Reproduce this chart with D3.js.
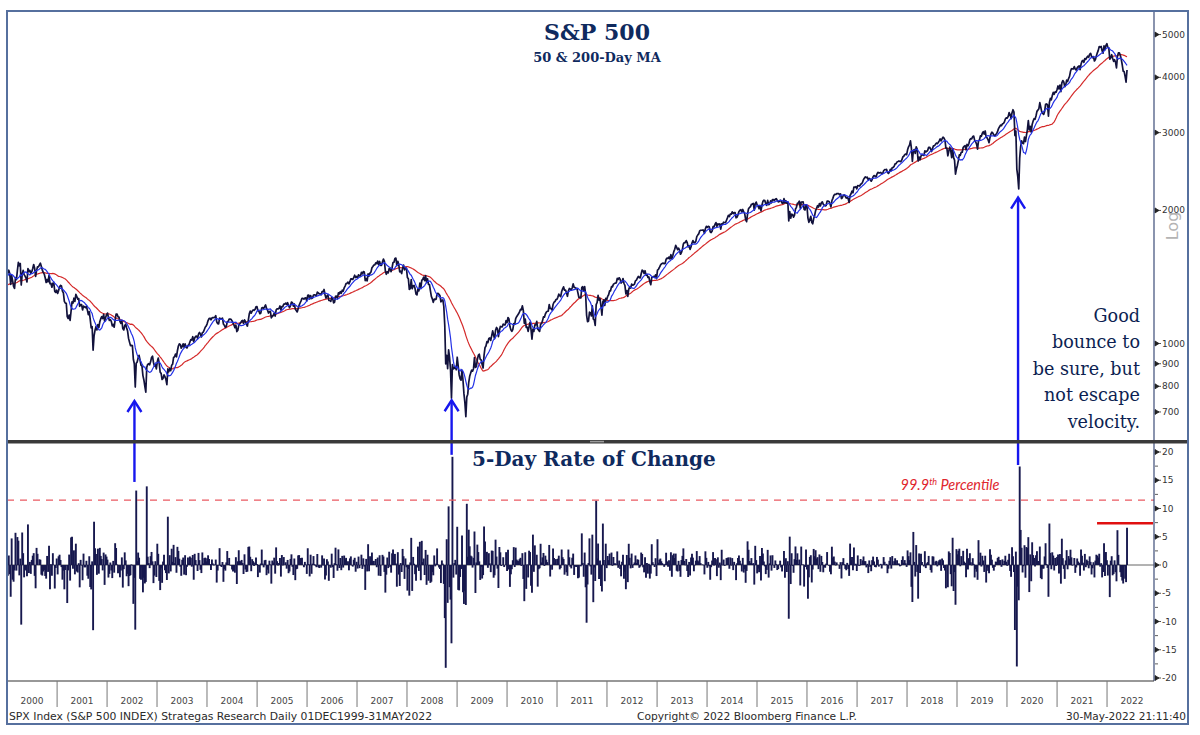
<!DOCTYPE html>
<html><head><meta charset="utf-8">
<script src="https://cdn.jsdelivr.net/npm/d3@7"></script>
<style>body{margin:0;background:#fff}svg{display:block}</style>
</head><body>
<svg id="c" width="1200" height="735"></svg>
<script>
// ---------- DATA (weekly S&P 500 closes) ----------
// 1999 series starts 1999-03-05 (used for the moving-average warm-up)
const spx1999 = [1275,1294,1299,1282, 1293,1328,1319,1356,1335, 1345,1338,1330,1302, 1327,1294,1342,1315, 1391,1403,1418,1356,1365, 1313,1327,1336,1348, 1357,1351,1335,1318,1283, 1317,1247,1301,1362, 1370,1397,1422,1416, 1433,1417,1421,1458,1469];
const spx2000 = [1441,1465,1441,1360, 1424,1387,1346,1333, 1409,1395,1464,1527,1499, 1516,1356,1434,1464, 1432,1420,1406,1378, 1477,1456,1464,1441,1454, 1478,1509,1480,1419, 1462,1491,1491,1506, 1520,1494,1466,1449,1436, 1408,1374,1396,1379, 1426,1365,1367,1341, 1369,1369,1312,1305,1320];
const spx2001 = [1298,1318,1342,1354, 1349,1314,1301,1245, 1234,1233,1150,1139,1160, 1128,1183,1242,1234, 1266,1245,1292,1277, 1260,1264,1214,1225,1224, 1191,1215,1210,1205, 1214,1191,1162,1180,1134, 1085,1092,966,1040, 1071,1092,1073,1104, 1087,1120,1138,1150,1139, 1164,1123,1144,1161];
const spx2002 = [1172,1146,1128,1133, 1122,1096,1104,1089, 1131,1165,1166,1149,1147, 1122,1111,1126,1081, 1073,1097,1106,1084,1067, 1027,1007,989,990, 989,921,900,797, 902,908,928,940,917, 893,889,846,827, 800,776,884,897, 900,895,909,930,936, 906,889,895,876];
const spx2003 = [909,927,901,861,856, 829,834,849,841, 829,807,876,863, 878,868,893,898, 930,933,946,933,963, 987,998,995,976, 985,998,981,998, 980,977,990,993,1008, 1021,1018,1036,1009, 1029,1038,1039,1028,1050, 1059,1050,1035,1058, 1061,1074,1088,1095];
const spx2004 = [1108,1127,1139,1141,1131, 1142,1145,1144,1145, 1156,1120,1109,1108, 1141,1139,1135,1141,1107, 1099,1088,1093,1120, 1122,1136,1135,1134, 1125,1112,1101,1086,1101, 1064,1071,1099,1107, 1114,1124,1128,1110, 1131,1122,1108,1095,1130, 1167,1184,1171,1183, 1191,1189,1194,1210,1212];
const spx2005 = [1186,1184,1168,1171, 1203,1206,1201,1211, 1222,1200,1190,1172, 1181,1182,1143,1152,1157, 1172,1154,1190,1198, 1197,1201,1216,1191, 1212,1211,1228,1228,1234, 1226,1237,1219,1205, 1218,1241,1237,1215,1229, 1196,1187,1179,1199, 1220,1235,1249,1265, 1265,1260,1267,1268,1248];
const spx2006 = [1285,1287,1261,1284, 1264,1267,1287,1289, 1287,1282,1307,1302,1295, 1295,1289,1311,1310, 1325,1291,1267,1280, 1288,1252,1251,1245,1270, 1265,1236,1240,1278, 1280,1267,1302,1295, 1311,1299,1320,1314,1336, 1349,1366,1368,1377, 1364,1380,1401,1400, 1396,1409,1427,1410,1418];
const spx2007 = [1409,1430,1422,1422, 1448,1438,1455,1451, 1387,1402,1386,1437,1421, 1443,1452,1484,1494, 1505,1506,1522,1516, 1536,1507,1533,1503,1503, 1530,1553,1534,1459, 1434,1453,1445,1479,1474, 1454,1484,1525,1527, 1557,1561,1501,1535, 1509,1453,1458,1440,1481, 1504,1467,1484,1478];
const spx2008 = [1411,1401,1325,1331, 1395,1331,1350,1353,1331, 1294,1288,1330,1316, 1370,1333,1390,1397, 1413,1388,1425,1375,1400, 1361,1360,1317,1278, 1262,1239,1260,1257, 1260,1297,1298,1292,1283, 1242,1252,1255,1213, 1099,899,940,877,968, 930,873,752,896, 876,879,887,872];
const spx2009 = [931,890,850,832,826, 869,827,770,735, 683,757,768,816, 843,857,870,866, 877,929,883,887,919, 940,946,921,918, 896,880,940,979,987, 1010,1005,1026,1029, 1016,1042,1068,1044, 1025,1071,1087,1080,1036, 1069,1093,1091,1091, 1106,1102,1102,1127];
const spx2010 = [1115,1145,1136,1092,1074, 1066,1075,1109,1105, 1139,1150,1159,1167, 1179,1194,1192,1217,1187, 1111,1136,1088,1089, 1065,1092,1117,1076, 1023,1078,1065,1102,1102, 1122,1079,1071,1065, 1105,1110,1125,1149, 1147,1166,1177,1183,1183, 1225,1200,1200,1190, 1225,1240,1244,1257,1258];
const spx2011 = [1272,1293,1283,1276, 1311,1329,1343,1320, 1321,1304,1279,1314, 1332,1328,1320,1337,1364, 1340,1338,1333,1331, 1300,1271,1271,1268, 1339,1344,1316,1345,1292, 1160,1120,1124,1177, 1174,1154,1216,1136,1131, 1099,1224,1238,1285, 1253,1263,1216,1159, 1244,1255,1219,1265,1258];
const spx2012 = [1278,1289,1315,1316, 1345,1343,1362,1366, 1370,1371,1404,1397,1408, 1398,1370,1378,1403, 1369,1353,1295,1318, 1278,1326,1343,1335,1362, 1355,1357,1363,1386, 1391,1405,1418,1411,1407, 1438,1466,1460,1441, 1461,1428,1433,1411, 1414,1380,1359,1409,1416, 1418,1413,1430,1402];
const spx2013 = [1466,1472,1486,1503, 1513,1518,1520,1515, 1518,1551,1561,1556,1569, 1553,1588,1555,1582, 1614,1634,1667,1650,1631, 1643,1626,1592,1606, 1632,1680,1692,1691, 1709,1691,1655,1664,1633, 1655,1688,1710,1691, 1690,1703,1745,1759, 1770,1798,1804,1804,1806, 1805,1775,1818,1841];
const spx2014 = [1832,1842,1838,1790,1783, 1797,1838,1836,1859, 1878,1841,1866,1857, 1865,1815,1864,1863, 1881,1878,1877,1900,1924, 1950,1937,1963,1961, 1985,1967,1978,1978, 1925,1931,1955,1988,2003, 2008,1985,2010,1983, 1968,1906,1886,1965,2018, 2032,2039,2064,2068, 2075,2003,2071,2089];
const spx2015 = [2058,2045,2019,2051,1995, 2055,2097,2110,2105, 2071,2053,2108,2061, 2067,2102,2081,2117, 2116,2105,2122,2126,2107, 2092,2094,2110,2101, 2077,2076,2127,2079,2104, 2078,2092,1893,1988, 1921,1961,1958,1931, 1951,2015,2033,2075,2079, 2099,2023,2089,2090, 2092,2012,2005,2060];
const spx2016 = [2044,1922,1880,1907,1940, 1880,1865,1918,1948, 1999,2022,2050,2035, 2073,2048,2081,2092,2065, 2057,2047,2052,2099, 2099,2096,2071,2037, 2103,2130,2162,2175,2173, 2183,2184,2184,2169, 2180,2128,2139,2165,2168, 2153,2133,2141,2126, 2085,2164,2182,2213, 2192,2260,2258,2263,2239];
const spx2017 = [2277,2274,2271,2295, 2297,2316,2351,2367, 2383,2373,2378,2344,2363, 2355,2329,2349,2384, 2399,2391,2382,2416, 2439,2432,2433,2438,2423, 2425,2459,2473,2472, 2477,2441,2425,2443, 2477,2461,2500,2502,2519, 2549,2553,2575,2581, 2588,2582,2579,2602, 2642,2652,2675,2683,2674];
const spx2018 = [2743,2786,2810,2873, 2762,2581,2732,2747, 2691,2786,2752,2588,2641, 2604,2656,2670,2670, 2663,2728,2713,2721, 2735,2779,2780,2755,2718, 2760,2801,2802,2819, 2840,2833,2850,2874,2902, 2872,2905,2930,2914, 2886,2767,2768,2659, 2723,2781,2736,2633,2760, 2633,2600,2417,2485];
const spx2019 = [2532,2596,2671,2665, 2707,2708,2776,2793, 2804,2743,2822,2800,2834, 2893,2907,2905,2940, 2946,2881,2860,2826,2752, 2873,2887,2950,2942, 2990,3014,2977,3026, 2932,2919,2889,2847,2926, 2979,3007,2992,2962, 2952,2970,2986,3023, 3067,3093,3120,3110,3141, 3146,3169,3221,3240];
const spx2020 = [3235,3265,3330,3295,3226, 3328,3380,3338,2954, 3024,2481,2386,2237, 2627,2790,2875,2837, 2831,2930,2864,2955,3044, 3194,3041,3098,3009, 3130,3185,3225,3216,3271, 3351,3373,3397,3508, 3427,3341,3319,3298, 3348,3477,3483,3465,3270, 3510,3585,3558,3638, 3699,3663,3709,3703];
const spx2021 = [3756,3825,3768,3841,3714, 3887,3934,3907,3811, 3842,3943,3913,3975, 4020,4129,4185,4180,4181, 4233,4174,4156,4204, 4230,4247,4166,4281, 4352,4370,4327,4412,4395, 4437,4468,4442,4510, 4535,4459,4433,4455, 4357,4391,4471,4545,4605, 4697,4683,4698,4595, 4538,4712,4620,4726,4766];
const spx2022 = [4677,4663,4398,4432, 4501,4419,4349,4385, 4329,4204,4463,4543, 4546,4488,4393,4272,4132, 4123,4023,3901,4158];

const priceTicks = [700, 800, 900, 1000, 2000, 3000, 4000, 5000];
const rocTicks = [-20, -15, -10, -5, 0, 5, 10, 15, 20];
const yearLabels = [2000,2001,2002,2003,2004,2005,2006,2007,2008,2009,2010,2011,2012,2013,2014,2015,2016,2017,2018,2019,2020,2021,2022];
const percentile999 = 11.5;     // 99.9th percentile of 5-day ROC
const recentHigh = 7.4;         // recent ROC high marker
const arrowDates = ["2002-07-20", "2008-11-22", "2020-03-22"];
const arrowTips = [745, 748, 2150];      // price level of arrow tip
const arrowBases = [14.7, 19.5, 17.7];   // ROC level of arrow tail

// ---------- BUILD SERIES ----------
const DAY = 86400000;
function firstFriday(y){ const d = new Date(Date.UTC(y,0,1)); return Date.UTC(y,0,1 + ((5 - d.getUTCDay() + 7) % 7)); }
const yearSeries = [[1999, spx1999, Date.UTC(1999,2,5)],[2000,spx2000],[2001,spx2001],[2002,spx2002],[2003,spx2003],[2004,spx2004],[2005,spx2005],[2006,spx2006],[2007,spx2007],[2008,spx2008],[2009,spx2009],[2010,spx2010],[2011,spx2011],[2012,spx2012],[2013,spx2013],[2014,spx2014],[2015,spx2015],[2016,spx2016],[2017,spx2017],[2018,spx2018],[2019,spx2019],[2020,spx2020],[2021,spx2021],[2022,spx2022]];
const series = [];
yearSeries.forEach(([yr, vals, start]) => {
  const s = start !== undefined ? start : firstFriday(yr);
  vals.forEach((v,i) => series.push({t: new Date(s + i*7*DAY), v}));
});
function sma(n){ const out=[]; for(let i=n-1;i<series.length;i++){ let s=0; for(let j=i-n+1;j<=i;j++) s+=series[j].v; out.push({t:series[i].t, v:s/n}); } return out; }
const ma50 = sma(10), ma200 = sma(40);
const roc = [];
for (let i=1;i<series.length;i++) roc.push({t:series[i].t, v:(series[i].v/series[i-1].v-1)*100});
const showFrom = new Date(Date.UTC(1999,11,1));
const vis = arr => arr.filter(d => d.t >= showFrom);

// ---------- LAYOUT ----------
const L=7, R=1154, FR=1188, T=11, UB=440, LT=443, LB=681, FB=724;
const svg = d3.select('#c');
const x = d3.scaleUtc().domain([Date.UTC(2000,0,1), Date.UTC(2023,0,1)]).range([7,1157]);
const yP = d3.scaleLog().domain([1000,10000]).range([343.5, 343.5-442]);
const yR = d3.scaleLinear().domain([-20,20]).range([678,452]);

const defs = svg.append('defs');
defs.append('clipPath').attr('id','cu').append('rect').attr('x',L+1).attr('y',T).attr('width',R-L-1).attr('height',UB-T);
defs.append('clipPath').attr('id','cl').append('rect').attr('x',L+1).attr('y',LT).attr('width',R-L-1).attr('height',LB-LT);

svg.append('rect').attr('width',1200).attr('height',735).attr('fill','#fff');

// ---------- UPPER PANEL ----------
const up = svg.append('g').attr('clip-path','url(#cu)');
const lineP = d3.line().x(d=>x(d.t)).y(d=>yP(d.v));
up.append('path').datum(vis(ma200)).attr('d',lineP).attr('fill','none').attr('stroke','#d42a2a').attr('stroke-width',1.2);
up.append('path').datum(vis(series)).attr('d',lineP).attr('fill','none').attr('stroke','#12123c').attr('stroke-width',1.7).attr('stroke-linejoin','round');
up.append('path').datum(vis(ma50)).attr('d',lineP).attr('fill','none').attr('stroke','#2331e6').attr('stroke-width',1.2);

// title
svg.append('text').attr('x',597).attr('y',40).attr('text-anchor','middle')
  .attr('font-family','DejaVu Serif, serif').attr('font-weight','bold').attr('font-size',22).attr('fill','#0f2a5e').text('S&P 500');
svg.append('text').attr('x',597).attr('y',62).attr('text-anchor','middle')
  .attr('font-family','DejaVu Serif, serif').attr('font-weight','bold').attr('font-size',13).attr('fill','#0f2a5e').text('50 & 200-Day MA');

// annotation text
const note = ['Good','bounce to','be sure, but','not escape','velocity.'];
svg.append('g').selectAll('text').data(note).join('text')
  .attr('x',1140).attr('y',(d,i)=>322+i*26.4).attr('text-anchor','end')
  .attr('font-family','DejaVu Serif, serif').attr('font-size',17.6).attr('fill','#0d1f52').text(d=>d);

// right axis (price)
const ax = svg.append('g');
ax.selectAll('path.tk').data(priceTicks).join('path').attr('class','tk')
  .attr('d',d=>`M${R+1},${yP(d)-2.5}L${R+5},${yP(d)}L${R+1},${yP(d)+2.5}Z M${R+4},${yP(d)}H${R+7}`)
  .attr('fill','#222').attr('stroke','#222').attr('stroke-width',0.8);
ax.selectAll('text').data(priceTicks).join('text')
  .attr('x',R+8).attr('y',d=>yP(d)+3).attr('font-family','DejaVu Sans, sans-serif').attr('font-size',9).attr('fill','#333').text(d=>d);
svg.append('text').attr('transform','translate(1178,226) rotate(-90)').attr('text-anchor','middle')
  .attr('font-family','DejaVu Sans, sans-serif').attr('font-size',16).attr('fill','#b4b4b4').text('Log');

// ---------- LOWER PANEL ----------
const lo = svg.append('g').attr('clip-path','url(#cl)');
lo.append('line').attr('x1',L).attr('x2',R).attr('y1',yR(0)).attr('y2',yR(0)).attr('stroke','#666').attr('stroke-width',1);
lo.append('g').selectAll('line').data(vis(roc)).join('line')
  .attr('x1',d=>x(d.t)).attr('x2',d=>x(d.t)).attr('y1',yR(0)).attr('y2',d=>yR(d.v))
  .attr('stroke','#17184e').attr('stroke-width',1.9);
lo.append('line').attr('x1',L).attr('x2',R).attr('y1',yR(percentile999)).attr('y2',yR(percentile999))
  .attr('stroke','#ea5a62').attr('stroke-width',1.3).attr('stroke-dasharray','7,6');
lo.append('line').attr('x1',x(new Date(Date.UTC(2021,9,20)))).attr('x2',R-1).attr('y1',yR(recentHigh)).attr('y2',yR(recentHigh))
  .attr('stroke','#e01010').attr('stroke-width',2.4);

svg.append('text').attr('x',950).attr('y',490).attr('text-anchor','middle')
  .attr('font-family','Lato, sans-serif').attr('font-style','italic').attr('font-size',14.5).attr('fill','#e0262e')
  .call(t=>{ t.append('tspan').text('99.9'); t.append('tspan').attr('font-size',9).attr('dy',-5).text('th'); t.append('tspan').attr('dy',5).text(' Percentile'); });

svg.append('text').attr('x',472).attr('y',466)
  .attr('font-family','DejaVu Serif, serif').attr('font-weight','bold').attr('font-size',20).attr('fill','#0f2a5e').text('5-Day Rate of Change');

// right axis (ROC)
const ax2 = svg.append('g');
ax2.selectAll('path.tk').data(rocTicks).join('path').attr('class','tk')
  .attr('d',d=>`M${R+1},${yR(d)-2.5}L${R+5},${yR(d)}L${R+1},${yR(d)+2.5}Z M${R+4},${yR(d)}H${R+7}`)
  .attr('fill','#222').attr('stroke','#222').attr('stroke-width',0.8);
ax2.selectAll('line.mn').data(rocTicks.slice(0,-1).map(d=>d+2.5)).join('line').attr('class','mn')
  .attr('x1',R+1).attr('x2',R+4).attr('y1',d=>yR(d)).attr('y2',d=>yR(d)).attr('stroke','#333').attr('stroke-width',0.8);
ax2.selectAll('text').data(rocTicks).join('text')
  .attr('x',R+8).attr('y',d=>yR(d)+3).attr('font-family','DejaVu Sans, sans-serif').attr('font-size',9).attr('fill','#333').text(d=>d);

// arrows
const ag = svg.append('g').attr('stroke','#1717ee').attr('stroke-width',2.4).attr('fill','none');
arrowDates.forEach((ds,i)=>{
  const ax0 = x(new Date(ds+'T00:00:00Z'));
  const tip = yP(arrowTips[i]), base = yR(arrowBases[i]);
  ag.append('line').attr('x1',ax0).attr('x2',ax0).attr('y1',tip+1).attr('y2',base);
  ag.append('path').attr('d',`M${ax0-7},${tip+12}L${ax0},${tip+1}L${ax0+7},${tip+12}`);
});

// ---------- FRAME / SEPARATORS ----------
svg.append('line').attr('x1',R).attr('x2',R).attr('y1',T).attr('y2',LB).attr('stroke','#3c4c78').attr('stroke-width',1.2);
svg.append('rect').attr('x',L).attr('y',UB).attr('width',FR-L).attr('height',3.5).attr('fill','#3a3a3a');
svg.append('rect').attr('x',590).attr('y',440.8).attr('width',14).attr('height',1.6).attr('fill','#9a9a9a');
svg.append('line').attr('x1',L).attr('x2',R).attr('y1',LB).attr('y2',LB).attr('stroke','#333').attr('stroke-width',1.2);

// x axis
const xa = svg.append('g');
xa.selectAll('line').data(yearLabels.slice(1)).join('line')
  .attr('x1',d=>x(new Date(Date.UTC(d,0,1)))).attr('x2',d=>x(new Date(Date.UTC(d,0,1))))
  .attr('y1',LB).attr('y2',707).attr('stroke','#777').attr('stroke-width',1);
xa.selectAll('text').data(yearLabels).join('text')
  .attr('x',d=>x(new Date(Date.UTC(d,6,2)))).attr('y',704).attr('text-anchor','middle')
  .attr('font-family','DejaVu Sans, sans-serif').attr('font-size',9).attr('fill','#444').text(d=>d);

// footer
const ff = 'DejaVu Sans, sans-serif';
svg.append('text').attr('x',9).attr('y',720).attr('font-family',ff).attr('font-size',10).attr('fill','#2a2a2a')
  .attr('textLength',423).attr('lengthAdjust','spacingAndGlyphs').text('SPX Index (S&P 500 INDEX) Strategas Research  Daily 01DEC1999-31MAY2022');
svg.append('text').attr('x',637).attr('y',720).attr('font-family',ff).attr('font-size',10).attr('fill','#2a2a2a')
  .attr('textLength',220).attr('lengthAdjust','spacingAndGlyphs').text('Copyright© 2022 Bloomberg Finance L.P.');
svg.append('text').attr('x',1066).attr('y',720).attr('font-family',ff).attr('font-size',10).attr('fill','#2a2a2a')
  .attr('textLength',120).attr('lengthAdjust','spacingAndGlyphs').text('30-May-2022 21:11:40');

svg.append('rect').attr('x',L).attr('y',T).attr('width',FR-L).attr('height',FB-T).attr('fill','none').attr('stroke','#56709e').attr('stroke-width',2);
</script>
</body></html>
